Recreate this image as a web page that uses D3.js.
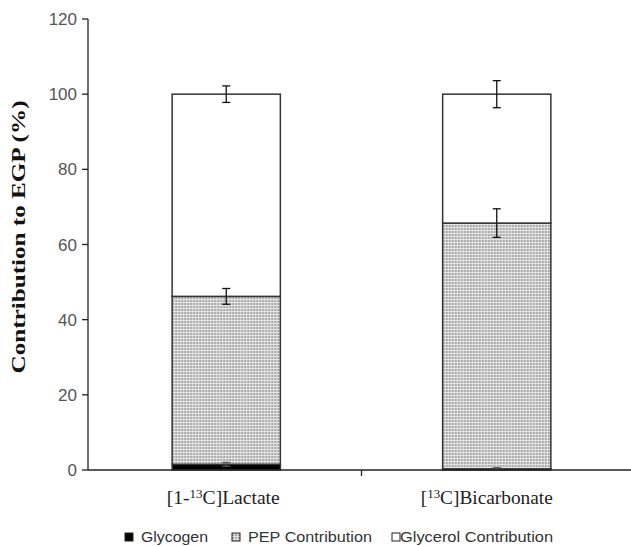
<!DOCTYPE html>
<html>
<head>
<meta charset="utf-8">
<script src="https://cdn.jsdelivr.net/npm/d3@7"></script>
<style>
  body { margin: 0; background: #fff; }
  svg { display: block; }
  .tick-label { font-family: 'Liberation Sans', Arial, sans-serif; font-size: 17px; fill: #555; }
  .cat-label { font-family: 'Liberation Serif', 'Times New Roman', serif; font-size: 18px; fill: #222; }
  .legend-label { font-family: 'Liberation Sans', Arial, sans-serif; font-size: 15px; fill: #333; }
  .y-title { font-family: 'Liberation Serif', 'Times New Roman', serif; font-size: 18px; font-weight: bold; fill: #111; }
</style>
</head>
<body>
<svg id="chart" width="631" height="546"></svg>
<script>
const categories = ['lactate', 'bicarbonate']
const glycogen = [1.5, 0.3]
const glycogenErr = [0.5, 0.3]
const pep = [44.7, 65.4]
const pepErr = [2.1, 3.8]
const glycerol = [53.8, 34.3]
const glycerolErr = [2.2, 3.6]
const yTicks = [0, 20, 40, 60, 80, 100, 120]
const series = ['Glycogen', 'PEP Contribution', 'Glycerol Contribution']

const svg = d3.select('#chart')

const y = d3.scaleLinear()
	.domain([0, 120])
	.range([470, 19])

const x = d3.scaleBand()
	.domain(categories)
	.range([91, 632])
	.padding(0)

const barW = x.bandwidth() * 0.4
const axisX = 88

// pattern for PEP
const pat = svg.append('defs')
	.append('pattern')
	.attr('id', 'pep-dots')
	.attr('patternUnits', 'userSpaceOnUse')
	.attr('width', 3)
	.attr('height', 3)

pat.append('rect').attr('width', 3).attr('height', 3).attr('fill', '#e4e4e4')
pat.append('rect').attr('width', 2).attr('height', 2).attr('fill', '#a9a9a9')

// stacked data
const stackData = categories.map((c, i) => {
	const segs = [
		{ key: 'glycogen', v0: 0, v1: glycogen[i], err: glycogenErr[i] },
		{ key: 'pep', v0: glycogen[i], v1: glycogen[i] + pep[i], err: pepErr[i] },
		{ key: 'glycerol', v0: glycogen[i] + pep[i], v1: glycogen[i] + pep[i] + glycerol[i], err: glycerolErr[i] }
	]
	return { cat: c, segs }
})

const fills = { glycogen: '#000', pep: 'url(#pep-dots)', glycerol: '#fff' }

const groups = svg.selectAll('.bar')
	.data(stackData)
	.enter()
	.append('g')
	.attr('class', 'bar')
	.attr('transform', d => 'translate(' + (x(d.cat) + x.bandwidth() / 2) + ',0)')

groups.selectAll('rect')
	.data(d => d.segs)
	.enter()
	.append('rect')
	.attr('x', -barW / 2)
	.attr('width', barW)
	.attr('y', d => y(d.v1))
	.attr('height', d => y(d.v0) - y(d.v1))
	.attr('fill', d => fills[d.key])
	.attr('stroke', '#333')
	.attr('stroke-width', 1.5)

// error bars
const err = groups.selectAll('.err')
	.data(d => d.segs)
	.enter()
	.append('g')
	.attr('class', 'err')
	.attr('stroke', d => d.key === 'glycogen' ? '#555' : '#111')
	.attr('stroke-width', 1.3)

err.append('line')
	.attr('x1', 0).attr('x2', 0)
	.attr('y1', d => y(d.v1 + d.err))
	.attr('y2', d => y(d.v1 - d.err))

err.append('line')
	.attr('x1', -4).attr('x2', 4)
	.attr('y1', d => y(d.v1 + d.err))
	.attr('y2', d => y(d.v1 + d.err))

err.append('line')
	.attr('x1', -4).attr('x2', 4)
	.attr('y1', d => y(d.v1 - d.err))
	.attr('y2', d => y(d.v1 - d.err))

// y axis
svg.append('line')
	.attr('x1', axisX).attr('x2', axisX)
	.attr('y1', y(120)).attr('y2', y(0))
	.attr('stroke', '#222').attr('stroke-width', 1.3)

const yt = svg.selectAll('.ytick')
	.data(yTicks)
	.enter()
	.append('g')
	.attr('class', 'ytick')
	.attr('transform', d => 'translate(0,' + y(d) + ')')

yt.append('line')
	.attr('x1', axisX - 6).attr('x2', axisX)
	.attr('stroke', '#222').attr('stroke-width', 1.3)

yt.append('text')
	.attr('class', 'tick-label')
	.attr('x', axisX - 11)
	.attr('dy', '0.36em')
	.attr('text-anchor', 'end')
	.text(d => d)

// x axis
svg.append('line')
	.attr('x1', axisX).attr('x2', 631)
	.attr('y1', y(0)).attr('y2', y(0))
	.attr('stroke', '#222').attr('stroke-width', 1.3)

svg.selectAll('.xtick')
	.data(categories)
	.enter()
	.append('line')
	.attr('class', 'xtick')
	.attr('x1', d => x(d) + x.bandwidth())
	.attr('x2', d => x(d) + x.bandwidth())
	.attr('y1', y(0)).attr('y2', y(0) + 6)
	.attr('stroke', '#222').attr('stroke-width', 1.3)

// category labels with superscripts
const catText = [
	[{ t: '[1-' }, { t: '13', sup: true }, { t: 'C]Lactate' }],
	[{ t: '[' }, { t: '13', sup: true }, { t: 'C]Bicarbonate' }]
]
const catShift = [-3, -10]
const catLen = [113, 132]

svg.selectAll('.cat-label')
	.data(categories)
	.enter()
	.append('text')
	.attr('class', 'cat-label')
	.attr('x', (d, i) => x(d) + x.bandwidth() / 2 + catShift[i])
	.attr('y', 504)
	.attr('text-anchor', 'middle')
	.attr('textLength', (d, i) => catLen[i])
	.attr('lengthAdjust', 'spacingAndGlyphs')
	.each(function(d, i) {
		const t = d3.select(this)
		catText[i].forEach(p => {
			t.append('tspan')
				.attr('font-size', p.sup ? '12px' : null)
				.attr('baseline-shift', p.sup ? '6px' : null)
				.text(p.t)
		})
	})

// y title
svg.append('text')
	.attr('class', 'y-title')
	.attr('transform', 'translate(25,237) rotate(-90)')
	.attr('text-anchor', 'middle')
	.attr('textLength', 273)
	.attr('lengthAdjust', 'spacingAndGlyphs')
	.text('Contribution to EGP (%)')

// legend
const legendX = [125, 232, 392]
const legendFill = ['#000', 'url(#pep-dots)', '#fff']
const legendGap = [8, 8, 0]
const legendLen = [67, 124, 153]

const lg = svg.selectAll('.legend')
	.data(series)
	.enter()
	.append('g')
	.attr('class', 'legend')
	.attr('transform', (d, i) => 'translate(' + legendX[i] + ',537)')

lg.append('rect')
	.attr('x', 0).attr('y', -4)
	.attr('width', 8).attr('height', 8)
	.attr('fill', (d, i) => legendFill[i])
	.attr('stroke', '#222')
	.attr('stroke-width', 1)

lg.append('text')
	.attr('class', 'legend-label')
	.attr('x', (d, i) => 8 + legendGap[i])
	.attr('dy', '0.36em')
	.attr('textLength', (d, i) => legendLen[i])
	.attr('lengthAdjust', 'spacingAndGlyphs')
	.text(d => d)
</script>
</body>
</html>
